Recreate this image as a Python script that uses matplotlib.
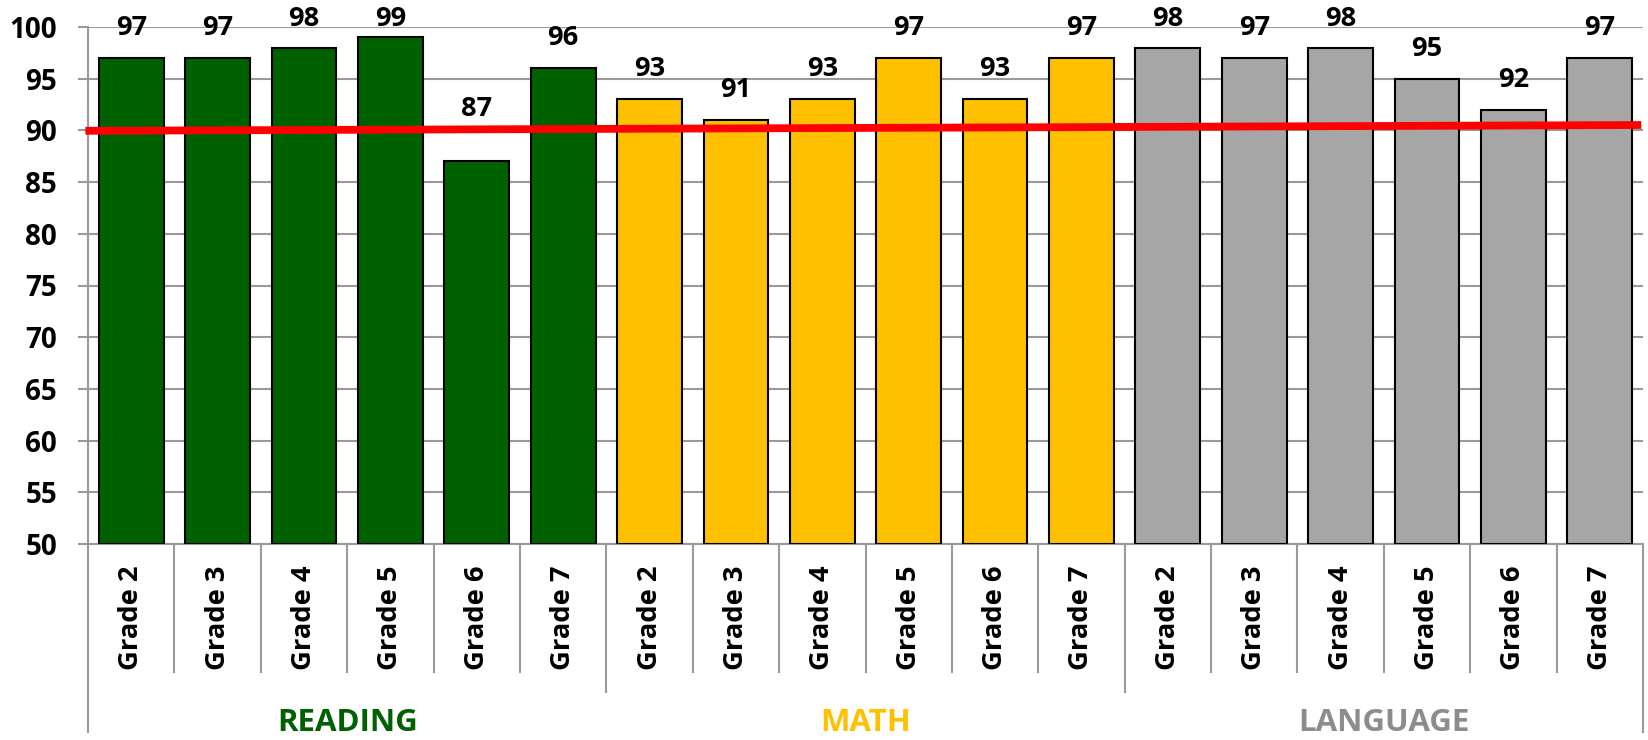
import numpy as np
import matplotlib.pyplot as plt
from matplotlib.transforms import blended_transform_factory

plt.rcParams["font.family"] = ["Open Sans", "DejaVu Sans"]

subjects = ["READING", "MATH", "LANGUAGE"]
grades = ["Grade 2", "Grade 3", "Grade 4", "Grade 5", "Grade 6", "Grade 7"]
reading = [97, 97, 98, 99, 87, 96]
math = [93, 91, 93, 97, 93, 97]
language = [98, 97, 98, 95, 92, 97]
target_line = [89.96, 90.52]  # red reference line, left end -> right end

bar_colors = ["#006100", "#FFC000", "#A6A6A6"]
label_colors = ["#006100", "#FFC000", "#8C8C8C"]
grid_color = "#9A9A9A"

values = reading + math + language
n = len(values)
x = np.arange(n)
colors = [c for c in bar_colors for _ in grades]

W, H = 1648, 740
ax_left, ax_right, ax_top, ax_bottom = 88, 1643, 27, 544
ax_h = ax_bottom - ax_top

fig = plt.figure(figsize=(W / 100, H / 100), dpi=100)
ax = fig.add_axes([ax_left / W, 1 - ax_bottom / H, (ax_right - ax_left) / W, ax_h / H])

ymin, ymax = 50, 100
px = (ymax - ymin) / ax_h  # data units per pixel

ax.bar(x, np.array(values) - ymin, bottom=ymin, width=0.75, color=colors,
       edgecolor="black", linewidth=1.5, zorder=3)

# red line
x0, x1 = -0.53, n - 0.52
ax.plot([x0, x1], target_line, color="#FF0000", linewidth=5.6,
        solid_capstyle="butt", zorder=4, clip_on=False)

# value labels: above the bar, kept inside the figure and clear of the red line
top_limit = ymax + (ax_top - 19.5) * px
for xi, v in zip(x, values):
    y_lab = min(v + 30 * px, top_limit)
    line_y = np.interp(xi, [x0, x1], target_line)
    if y_lab - 10 * px < line_y + 4 * px:
        y_lab = line_y + 20 * px
    ax.text(xi, y_lab, str(v), ha="center", va="center", fontsize=19.5,
            fontweight="bold", zorder=5, clip_on=False)

ax.set_xlim(-0.5, n - 0.5)
ax.set_ylim(ymin, ymax)
ax.set_yticks(np.arange(50, 101, 5))
ax.yaxis.grid(True, color=grid_color, linewidth=1.5, zorder=0)
ax.set_axisbelow(True)
ax.tick_params(axis="y", length=7.2, width=1.5, color=grid_color,
               labelsize=20, pad=15)
for lbl in ax.get_yticklabels():
    lbl.set_fontweight("bold")
ax.set_xticks([])
for side in ["top", "right"]:
    ax.spines[side].set_visible(False)
for side in ["left", "bottom"]:
    ax.spines[side].set_color(grid_color)
    ax.spines[side].set_linewidth(1.5)

# multi-level category axis
trans = blended_transform_factory(ax.transData, ax.transAxes)
for b in range(n + 1):
    xb = b - 0.5
    if b == 0 or b == n:
        y_end = 732
    elif b % len(grades) == 0:
        y_end = 692
    else:
        y_end = 672
    ax.plot([xb, xb], [0, -(y_end - ax_bottom) / ax_h], color=grid_color,
            linewidth=1.5, transform=trans, clip_on=False)

for xi in x:
    ax.text(xi, -(617.5 - ax_bottom) / ax_h, grades[xi % len(grades)],
            transform=trans, rotation=90, ha="center", va="center",
            fontsize=19.7, fontweight="bold")

for gi, name in enumerate(subjects):
    center = gi * len(grades) + (len(grades) - 1) / 2
    ax.text(center, -(731 - ax_bottom) / ax_h, name, transform=trans,
            ha="center", va="baseline", fontsize=22.5, fontweight="bold",
            color=label_colors[gi])

fig.savefig("out.png", dpi=100)
